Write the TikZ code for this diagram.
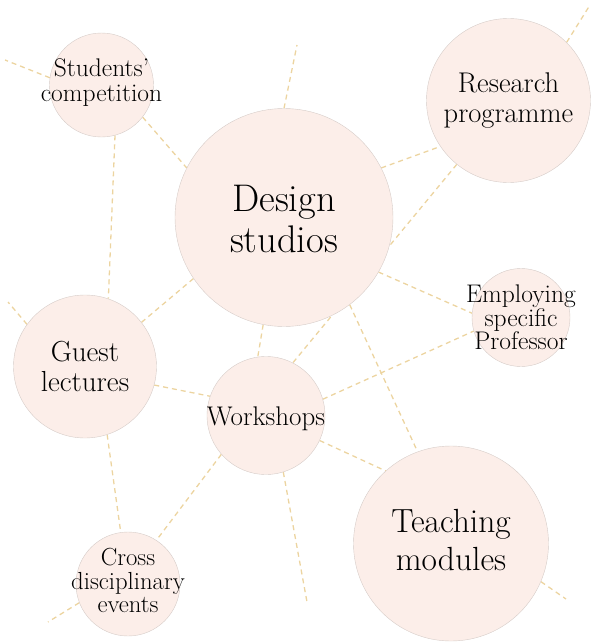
\documentclass[tikz,border=0pt]{standalone}
\usepackage{fontspec}
\definecolor{bubblefill}{RGB}{252,238,233}
\definecolor{bubbleedge}{RGB}{214,204,200}
\definecolor{linktan}{RGB}{236,212,160}
\pgfdeclarelayer{bg}
\pgfsetlayers{bg,main}
\tikzset{
  bubble/.style={circle, fill=bubblefill, draw=bubbleedge, line width=0.4pt, inner sep=0pt},
  bubbletext/.style={align=center, inner sep=0pt, text=black},
  link/.style={draw=linktan, line width=1.3pt, dash pattern=on 5pt off 4pt}
}
\begin{document}
\begin{tikzpicture}[x=1pt,y=-1pt]
\useasboundingbox (0,0) rectangle (590,642);
% circles
\node[bubble, minimum size=218pt] (D) at (284,217.5) {};
\node[bubble, minimum size=104pt] (S) at (101.5,85) {};
\node[bubble, minimum size=164pt] (R) at (508.5,100.5) {};
\node[bubble, minimum size=98pt]  (E) at (521,317.5) {};
\node[bubble, minimum size=143pt] (G) at (85,366.5) {};
\node[bubble, minimum size=118pt] (W) at (266,415.5) {};
\node[bubble, minimum size=104pt] (C) at (128,584) {};
\node[bubble, minimum size=195pt] (T) at (451,543.5) {};
% texts
\node[bubbletext, font=\fontsize{38.5}{41}\selectfont] (Dt) at ([yshift=-1.5pt]D.center) {Design\\studios};
\node[bubbletext, font=\fontsize{25.5}{25}\selectfont] (St) at ([yshift=2pt]S.center) {Students’\\competition};
\node[bubbletext, font=\fontsize{28.5}{30}\selectfont] (Rt) at (R.center) {Research\\programme};
\node[bubbletext, font=\fontsize{25.5}{23.5}\selectfont] (Et) at (E.center) {Employing\\specific\\Professor};
\node[bubbletext, font=\fontsize{29}{30}\selectfont] (Gt) at (G.center) {Guest\\lectures};
\node[bubbletext, font=\fontsize{27}{30}\selectfont] (Wt) at ([yshift=-3.5pt]W.center) {Workshops};
\node[bubbletext, font=\fontsize{24.7}{23.5}\selectfont] (Ct) at ([yshift=3.5pt]C.center) {Cross\\disciplinary\\events};
\node[bubbletext, font=\fontsize{33.5}{38}\selectfont] (Tt) at ([yshift=3pt]T.center) {Teaching\\modules};
% free ends
\coordinate (sfree) at (5,60);
\coordinate (dfree) at (297,45);
\coordinate (rfree) at (590,5);
\coordinate (gfree) at (8,302);
\coordinate (wfree) at (307,602);
\coordinate (cfree) at (48,622);
\coordinate (tfree) at (566,599);
% links
\begin{pgfonlayer}{bg}
\path[link] (S.172) -- (sfree);
\path[link] (S.-38) -- (D.153);
\path[link] (S.-75) -- (G.71);
\path[link] (D.90.5) -- (dfree);
\path[link] (D.27) -- (R.214);
\path[link] (R.231) -- (W.63);
\path[link] (R.45.5) -- (rfree);
\path[link] (D.-30) -- (E.175.5);
\path[link] (D.-53) -- (T.110.5);
\path[link] (W.16.5) -- (E.196.5);
\path[link] (W.-25) -- (T.132);
\path[link] (W.-73) -- (wfree);
\path[link] (D.-101) -- (W.98);
\path[link] (D.214.5) -- (G.38.5);
\path[link] (G.144.5) -- (gfree);
\path[link] (G.-15.5) -- (W.161);
\path[link] (G.-72) -- (C.98);
\path[link] (W.221.5) -- (C.57);
\path[link] (C.201) -- (cfree);
\path[link] (T.-23.5) -- (tfree);
\end{pgfonlayer}
\end{tikzpicture}
\end{document}
